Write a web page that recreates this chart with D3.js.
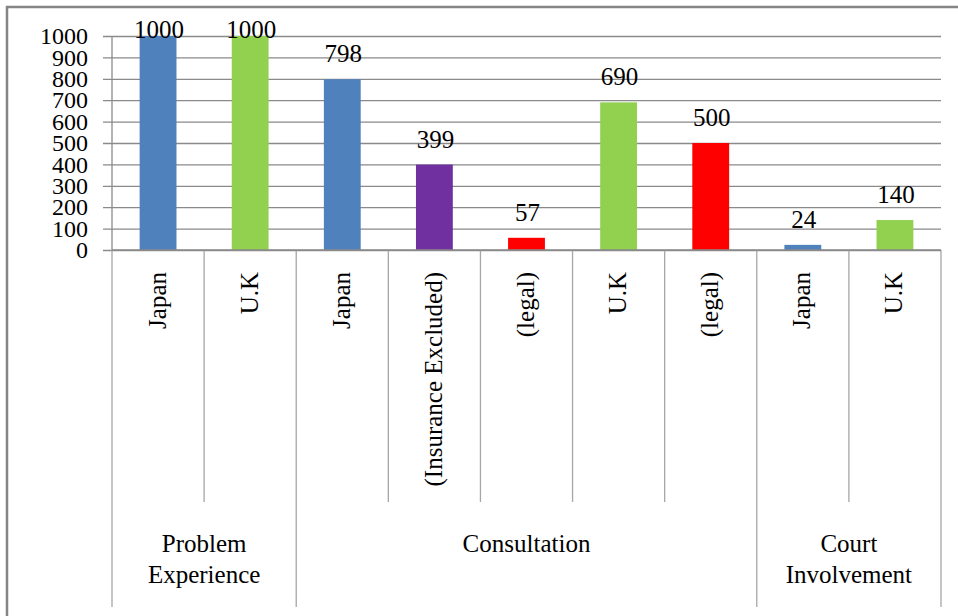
<!DOCTYPE html>
<html>
<head>
<meta charset="utf-8">
<script src="https://cdn.jsdelivr.net/npm/d3@7"></script>
<style>
  html, body { margin: 0; padding: 0; background: #fff; }
  svg { display: block; }
</style>
</head>
<body>
<svg id="chart" width="958" height="616"></svg>
<script>
// Per-category bars
const categories = ["Japan", "U.K", "Japan", "(Insurance Excluded)", "(legal)", "U.K", "(legal)", "Japan", "U.K"];
const values = [1000, 1000, 798, 399, 57, 690, 500, 24, 140];
const barColors = ["#4f81bd", "#92d050", "#4f81bd", "#7030a0", "#ff0000", "#92d050", "#ff0000", "#4f81bd", "#92d050"];

// Outer category groups (label lines and how many bars each spans)
const groupLabels = [["Problem", "Experience"], ["Consultation"], ["Court", "Involvement"]];
const groupSizes = [2, 5, 2];

// Value axis ticks
const yTicks = [0, 100, 200, 300, 400, 500, 600, 700, 800, 900, 1000];

const serif = '"Liberation Serif", "Times New Roman", serif';
const fontSize = 25;

const svg = d3.select("#chart");
const plot = { left: 112, right: 941, top: 36, bottom: 250 };

const x = d3.scaleBand()
  .domain(d3.range(categories.length))
  .range([plot.left, plot.right])
  .paddingInner(0.6)
  .paddingOuter(0.3);

const y = d3.scaleLinear()
  .domain([0, 1000])
  .range([plot.bottom, plot.top]);

// Shared text styling
function styleText(sel, size) {
  return sel
    .style("font-family", serif)
    .style("font-size", (size || fontSize) + "px")
    .attr("fill", "#000");
}

// Outer frame (top and left edges)
svg.append("path")
  .attr("d", "M7,616 V7 H958")
  .attr("fill", "none")
  .attr("stroke", "#858585")
  .attr("stroke-width", 2.5);

// Horizontal gridlines with tick labels
const tickOut = 9, tickPad = 15;
const yAxis = d3.axisLeft(y)
  .tickValues(yTicks)
  .tickSize(plot.right - plot.left + tickOut)
  .tickPadding(tickPad)
  .tickFormat(d3.format("d"));

const yg = svg.append("g")
  .attr("transform", `translate(${plot.right},0)`)
  .call(yAxis);
yg.select(".domain").remove();
yg.selectAll(".tick line")
  .attr("stroke", "#8a8a8a")
  .attr("stroke-width", 1.3);
styleText(yg.selectAll(".tick text"), 24)
  .attr("x", -(plot.right - plot.left + tickOut + tickPad));

// Vertical value axis line
svg.append("line")
  .attr("x1", plot.left).attr("x2", plot.left)
  .attr("y1", plot.top).attr("y2", plot.bottom)
  .attr("stroke", "#8a8a8a").attr("stroke-width", 1.3);

// Bars
svg.append("g").selectAll("rect")
  .data(values)
  .join("rect")
  .attr("x", (d, i) => x(i))
  .attr("width", x.bandwidth())
  .attr("y", d => y(d))
  .attr("height", d => y(0) - y(d))
  .attr("fill", (d, i) => barColors[i]);

// Value labels above the bars (kept inside the plot at the top)
styleText(svg.append("g").selectAll("text")
  .data(values)
  .join("text"))
  .attr("x", (d, i) => x(i) + x.bandwidth() / 2 + 1)
  .attr("y", d => Math.max(y(d) - 17, 38))
  .attr("text-anchor", "middle")
  .text(d => d);

// Category dividers below the axis: short between bars, long at group edges
const step = x.step();
const x0 = plot.left;
const groupEdges = new Set([0]);
groupSizes.reduce((acc, n) => { groupEdges.add(acc + n); return acc + n; }, 0);

svg.append("g").selectAll("line")
  .data(d3.range(categories.length + 1))
  .join("line")
  .attr("x1", i => x0 + i * step)
  .attr("x2", i => x0 + i * step)
  .attr("y1", plot.bottom)
  .attr("y2", i => groupEdges.has(i) ? 607 : 502)
  .attr("stroke", "#a6a6a6")
  .attr("stroke-width", 1.3);

// Horizontal category axis line
svg.append("line")
  .attr("x1", plot.left).attr("x2", plot.right)
  .attr("y1", plot.bottom).attr("y2", plot.bottom)
  .attr("stroke", "#8a8a8a").attr("stroke-width", 1.3);

// Rotated category labels
styleText(svg.append("g").selectAll("text")
  .data(categories)
  .join("text"))
  .attr("transform", (d, i) => `translate(${x(i) + x.bandwidth() / 2},272) rotate(-90)`)
  .attr("dy", "0.3em")
  .attr("text-anchor", "end")
  .text(d => d);

// Group labels
let start = 0;
const groupData = groupLabels.map((lines, gi) => {
  const s = start;
  start += groupSizes[gi];
  return { lines, cx: x0 + (s + groupSizes[gi] / 2) * step };
});

const gl = styleText(svg.append("g").selectAll("text")
  .data(groupData)
  .join("text"))
  .attr("text-anchor", "middle");
gl.selectAll("tspan")
  .data(d => d.lines.map(t => ({ t, cx: d.cx })))
  .join("tspan")
  .attr("x", d => d.cx)
  .attr("y", (d, i) => 552 + i * 31)
  .text(d => d.t);
</script>
</body>
</html>
